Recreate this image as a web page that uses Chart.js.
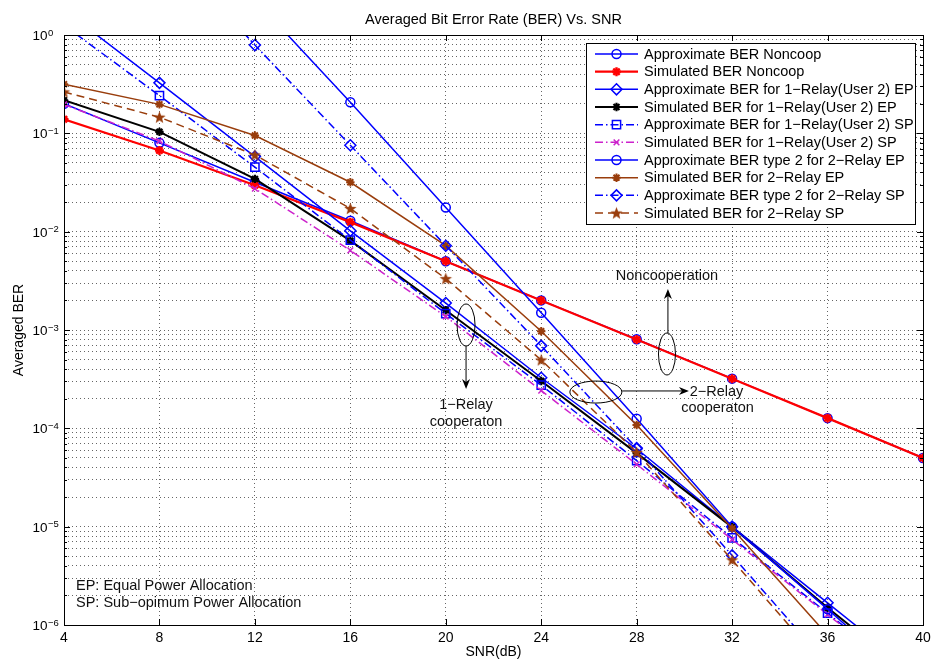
<!DOCTYPE html>
<html>
<head>
<meta charset="utf-8">
<script src="https://cdn.jsdelivr.net/npm/chart.js@4.4.0/dist/chart.umd.min.js"></script>
<style>
html,body{margin:0;padding:0;background:#fff;}
#wrap{width:933px;height:661px;position:relative;}
</style>
</head>
<body>
<div id="wrap"><canvas id="c" width="933" height="661"></canvas></div>
<script>
// ---------- data ----------
const snr = [4, 8, 12, 16, 20, 24, 28, 32, 36, 40];
const xTickValues = [4, 8, 12, 16, 20, 24, 28, 32, 36, 40];
const yTickExponents = [0, -1, -2, -3, -4, -5, -6];

const approxNoncoop  = [0.20, 0.080, 0.0318, 0.0129, 0.0050, 0.0020, 8.05e-4, 3.2e-4, 1.27e-4, 5.0e-5];
const simNoncoop     = [0.139, 0.067, 0.0296, 0.0125, 0.0050, 0.0020, 8.0e-4, 3.2e-4, 1.27e-4, 5.0e-5];
const approx1RelayEP = [1.8, 0.326, 0.058, 0.0102, 1.88e-3, 3.27e-4, 6.2e-5, 1.0e-5, 1.68e-6, 2.8e-7];
const sim1RelayEP    = [0.217, 0.1035, 0.0344, 0.0081, 1.59e-3, 3.03e-4, 5.6e-5, 9.9e-6, 1.5e-6, 2.5e-7];
const approx1RelaySP = [1.26, 0.242, 0.0453, 0.0082, 1.47e-3, 2.75e-4, 4.7e-5, 7.7e-6, 1.32e-6, 2.2e-7];
const sim1RelaySP    = [0.197, 0.0835, 0.0274, 6.45e-3, 1.37e-3, 2.42e-4, 4.3e-5, 7.4e-6, 1.28e-6, 2.2e-7];
const approx2RelayEP = [null, null, 2.28, 0.207, 0.0176, 1.5e-3, 1.25e-4, 1.0e-5, 1.45e-6, 2.0e-7];
const sim2RelayEP    = [0.316, 0.197, 0.095, 0.0318, 7.2e-3, 9.7e-4, 1.08e-4, 9.6e-6, 7.9e-7, null];
const approx2RelaySP = [null, 9.0, 0.79, 0.0757, 7.2e-3, 6.9e-4, 6.3e-5, 5.1e-6, 4.0e-7, null];
const sim2RelaySP    = [0.264, 0.146, 0.0603, 0.0172, 3.33e-3, 4.96e-4, 5.7e-5, 4.6e-6, 3.5e-7, null];

const chartTitle = 'Averaged Bit Error Rate (BER) Vs. SNR';
const labels = [
  'Approximate BER Noncoop',
  'Simulated BER Noncoop',
  'Approximate BER for 1\u2212Relay(User 2) EP',
  'Simulated BER for 1\u2212Relay(User 2) EP',
  'Approximate BER for 1\u2212Relay(User 2) SP',
  'Simulated BER for 1\u2212Relay(User 2) SP',
  'Approximate BER type 2 for 2\u2212Relay EP',
  'Simulated BER for 2\u2212Relay EP',
  'Approximate BER type 2 for 2\u2212Relay SP',
  'Simulated BER for 2\u2212Relay SP'
];
const seriesData = [approxNoncoop, simNoncoop, approx1RelayEP, sim1RelayEP, approx1RelaySP,
                    sim1RelaySP, approx2RelayEP, sim2RelayEP, approx2RelaySP, sim2RelaySP];

// ---------- styles ----------
const FONT = "'Liberation Sans', Arial, Helvetica, sans-serif";
const BLUE = '#0000ff', RED = '#ff0000', BLACK = '#000000', MAG = '#cc22cc', BROWN = '#993d0c';

function pentagram(color, r) {
  const c = document.createElement('canvas');
  const s = Math.ceil(r * 2 + 2);
  c.width = s; c.height = s;
  const g = c.getContext('2d');
  g.fillStyle = color;
  g.beginPath();
  for (let i = 0; i < 10; i++) {
    const ang = -Math.PI / 2 + i * Math.PI / 5;
    const rr = (i % 2 === 0) ? r : r * 0.42;
    g.lineTo(s / 2 + rr * Math.cos(ang), s / 2 + rr * Math.sin(ang) + 0.5);
  }
  g.closePath();
  g.fill();
  return c;
}
const brownStar = pentagram(BROWN, 6.5);

const styles = [
  {color: BLUE,  width: 1.5, dash: [],           point: 'circle',   radius: 4.5, pw: 1.5, fill: false},
  {color: RED,   width: 2.2, dash: [],           point: 'star',     radius: 4.5, pw: 2.4, fill: true},
  {color: BLUE,  width: 1.5, dash: [],           point: 'rectRot',  radius: 5.5, pw: 1.5, fill: false},
  {color: BLACK, width: 2,   dash: [],           point: 'star',     radius: 4.2, pw: 2.2, fill: true},
  {color: BLUE,  width: 1.5, dash: [8, 3, 1.5, 3], point: 'rect',   radius: 5.8, pw: 1.5, fill: false},
  {color: MAG,   width: 1.5, dash: [8, 3, 1.5, 3], point: 'crossRot', radius: 4, pw: 1.5, fill: false},
  {color: BLUE,  width: 1.5, dash: [],           point: 'circle',   radius: 4.5, pw: 1.5, fill: false},
  {color: BROWN, width: 1.5, dash: [],           point: 'star',     radius: 4.2, pw: 2,   fill: true},
  {color: BLUE,  width: 1.5, dash: [8, 3, 1.5, 3], point: 'rectRot', radius: 5.5, pw: 1.5, fill: false},
  {color: BROWN, width: 1.5, dash: [8, 5],       point: brownStar,  radius: 6,   pw: 1,   fill: true}
];

const datasets = seriesData.map((arr, i) => {
  const s = styles[i];
  return {
    label: labels[i],
    data: snr.map((x, j) => ({x: x, y: arr[j]})),
    borderColor: s.color,
    backgroundColor: s.color,
    borderWidth: s.width,
    borderDash: s.dash,
    pointStyle: s.point,
    pointRadius: s.radius,
    pointHoverRadius: s.radius,
    pointBorderWidth: s.pw,
    pointBorderColor: s.color,
    pointBackgroundColor: s.fill ? s.color : 'rgba(0,0,0,0)',
    fill: false,
    tension: 0,
    order: 20 - i
  };
});

// ---------- annotations (data coordinates) ----------
const annoTexts = [
  {text: 'Noncooperation', x: 29.27, ylog: -2.451, align: 'center'},
  {text: '1\u2212Relay', x: 20.85, ylog: -3.763, align: 'center'},
  {text: 'cooperaton', x: 20.85, ylog: -3.936, align: 'center'},
  {text: '2\u2212Relay', x: 30.22, ylog: -3.63, align: 'left'},
  {text: 'cooperaton', x: 31.39, ylog: -3.79, align: 'center'}
];
const annoEllipses = [
  {x: 29.27, ylog: -3.244, rx: 8.5, ry: 21},
  {x: 20.85, ylog: -2.949, rx: 9, ry: 21},
  {x: 26.29, ylog: -3.631, rx: 26, ry: 11}
];
const annoArrows = [
  {x1: 29.31, y1: -3.031, x2: 29.31, y2: -2.583},
  {x1: 20.85, y1: -3.163, x2: 20.85, y2: -3.60},
  {x1: 27.39, y1: -3.62, x2: 30.19, y2: -3.62}
];
const noteLines = ['EP: Equal Power Allocation', 'SP: Sub\u2212opimum Power Allocation'];

function drawMarker(ctx, s, x, y) {
  ctx.save();
  ctx.setLineDash([]);
  ctx.strokeStyle = s.color;
  ctx.fillStyle = s.fill ? s.color : 'rgba(0,0,0,0)';
  ctx.lineWidth = s.pw;
  if (Chart.helpers && Chart.helpers.drawPoint) {
    Chart.helpers.drawPoint(ctx, {pointStyle: s.point, radius: s.radius, borderWidth: s.pw, rotation: 0}, x, y);
  }
  ctx.restore();
}

const overlay = {
  id: 'overlay',
  afterDatasetsDraw(chart) {
    const {ctx, chartArea: a, scales} = chart;
    const xs = scales.x, ys = scales.y;
    const px = v => xs.getPixelForValue(v);
    const py = l => ys.getPixelForValue(Math.pow(10, l));
    ctx.save();
    // title centred over the plot area
    ctx.fillStyle = '#000';
    ctx.font = '14.5px ' + FONT;
    ctx.textAlign = 'center';
    ctx.textBaseline = 'middle';
    ctx.fillText(chartTitle, (a.left + a.right) / 2, 19.5);

    // frame and tick marks
    ctx.strokeStyle = '#000';
    ctx.lineWidth = 1;
    ctx.setLineDash([]);
    ctx.beginPath();
    xTickValues.forEach(v => {
      const X = Math.round(px(v)) + 0.5;
      ctx.moveTo(X, a.bottom); ctx.lineTo(X, a.bottom - 6);
      ctx.moveTo(X, a.top); ctx.lineTo(X, a.top + 6);
    });
    for (let e = -6; e <= 0; e++) {
      for (let m = 1; m <= 9; m++) {
        const v = m * Math.pow(10, e);
        if (v > 1.0000001) break;
        const Y = Math.round(ys.getPixelForValue(v)) + 0.5;
        const L = m === 1 ? 6 : 3;
        ctx.moveTo(a.left, Y); ctx.lineTo(a.left + L, Y);
        ctx.moveTo(a.right, Y); ctx.lineTo(a.right - L, Y);
      }
    }
    ctx.stroke();
    ctx.strokeRect(Math.round(a.left) + 0.5, Math.round(a.top) + 0.5,
                   Math.round(a.right) - Math.round(a.left), Math.round(a.bottom) - Math.round(a.top));

    // y tick labels 10^k
    ctx.fillStyle = '#000';
    yTickExponents.forEach(e => {
      const Y = ys.getPixelForValue(Math.pow(10, e));
      ctx.font = '13.5px ' + FONT;
      ctx.textAlign = 'right';
      ctx.textBaseline = 'alphabetic';
      ctx.fillText('10', a.left - 16.5, Y + 5);
      ctx.font = '9.5px ' + FONT;
      ctx.textAlign = 'left';
      ctx.fillText(e === 0 ? '0' : '\u2212' + Math.abs(e), a.left - 16, Y + 0.5);
    });

    // annotations
    ctx.strokeStyle = '#000';
    ctx.lineWidth = 1;
    annoEllipses.forEach(el => {
      ctx.beginPath();
      ctx.ellipse(px(el.x), py(el.ylog), el.rx, el.ry, 0, 0, Math.PI * 2);
      ctx.stroke();
    });
    annoArrows.forEach(ar => {
      const x1 = px(ar.x1), y1 = py(ar.y1), x2 = px(ar.x2), y2 = py(ar.y2);
      const ang = Math.atan2(y2 - y1, x2 - x1);
      const hl = 10, hw = 4;
      const bx = x2 - hl * Math.cos(ang), by = y2 - hl * Math.sin(ang);
      ctx.beginPath();
      ctx.moveTo(x1, y1); ctx.lineTo(bx + 3 * Math.cos(ang), by + 3 * Math.sin(ang));
      ctx.stroke();
      ctx.beginPath();
      ctx.moveTo(x2, y2);
      ctx.lineTo(bx - hw * Math.sin(ang), by + hw * Math.cos(ang));
      ctx.lineTo(bx + 3 * Math.cos(ang), by + 3 * Math.sin(ang));
      ctx.lineTo(bx + hw * Math.sin(ang), by - hw * Math.cos(ang));
      ctx.closePath();
      ctx.fillStyle = '#000';
      ctx.fill();
    });
    ctx.font = '14.5px ' + FONT;
    ctx.fillStyle = '#111';
    ctx.textBaseline = 'middle';
    annoTexts.forEach(t => {
      ctx.textAlign = t.align;
      ctx.fillText(t.text, px(t.x), py(t.ylog));
    });
    ctx.textAlign = 'left';
    noteLines.forEach((t, i) => {
      ctx.fillText(t, a.left + 12, a.bottom - 39 + i * 17);
    });

    // legend
    const bw = 329, bh = 181;
    const bx = Math.round(a.right) - 8 - bw, by = Math.round(a.top) + 8;
    ctx.fillStyle = '#fff';
    ctx.fillRect(bx, by, bw, bh);
    ctx.strokeStyle = '#000';
    ctx.lineWidth = 1;
    ctx.strokeRect(bx + 0.5, by + 0.5, bw, bh);
    labels.forEach((lab, i) => {
      const s = styles[i];
      const y = by + 11 + i * 17.67;
      ctx.save();
      ctx.strokeStyle = s.color;
      ctx.lineWidth = s.width;
      ctx.setLineDash(s.dash);
      ctx.beginPath();
      ctx.moveTo(bx + 9, y); ctx.lineTo(bx + 52, y);
      ctx.stroke();
      ctx.restore();
      drawMarker(ctx, s, bx + 30.5, y);
      ctx.fillStyle = '#000';
      ctx.font = '14.5px ' + FONT;
      ctx.textAlign = 'left';
      ctx.textBaseline = 'middle';
      ctx.fillText(lab, bx + 58, y + 0.5);
    });
    ctx.restore();
  }
};

new Chart(document.getElementById('c'), {
  type: 'line',
  data: {datasets: datasets},
  options: {
    responsive: false,
    animation: false,
    devicePixelRatio: 1,
    layout: {padding: {left: 0, right: 10, top: 35, bottom: 0}},
    plugins: {
      legend: {display: false},
      tooltip: {enabled: false},
      title: {display: false}
    },
    scales: {
      x: {
        type: 'linear',
        min: 4, max: 40,
        afterBuildTicks: ax => { ax.ticks = xTickValues.map(v => ({value: v})); },
        afterFit: ax => { ax.height = 36; ax.paddingLeft = 0; ax.paddingRight = 0; },
        ticks: {
          color: '#000',
          font: {family: FONT, size: 14},
          padding: 5,
          maxRotation: 0,
          autoSkip: false,
          callback: v => String(v)
        },
        grid: {color: 'rgba(0,0,0,0.6)', lineWidth: 1, drawTicks: false},
        border: {display: false, dash: [1, 3]},
        title: {display: true, text: 'SNR(dB)', color: '#000', font: {family: FONT, size: 14}, padding: {top: -2, bottom: 0}}
      },
      y: {
        type: 'logarithmic',
        min: 1e-6, max: 1,
        afterBuildTicks: ax => {
          const t = [];
          for (let e = -6; e <= 0; e++) {
            for (let m = 1; m <= 9; m++) {
              const v = m * Math.pow(10, e);
              if (v > 1.0000001) break;
              t.push({value: v});
            }
          }
          ax.ticks = t;
        },
        afterFit: ax => { ax.width = 64; ax.paddingTop = 0; ax.paddingBottom = 0; },
        ticks: {display: false},
        grid: {color: 'rgba(0,0,0,0.6)', lineWidth: 1, drawTicks: false},
        border: {display: false, dash: [1, 3]},
        title: {display: true, text: 'Averaged BER', color: '#000', font: {family: FONT, size: 14}, padding: {top: 10.5, bottom: 0}}
      }
    }
  },
  plugins: [overlay]
});
</script>
</body>
</html>
